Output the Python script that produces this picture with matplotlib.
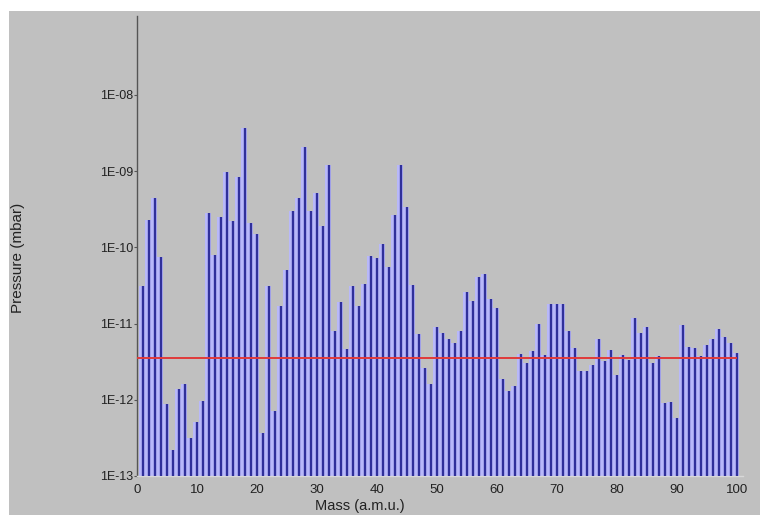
import numpy as np
import matplotlib.pyplot as plt
from matplotlib.patches import Rectangle
from matplotlib.ticker import FixedLocator, FuncFormatter, NullLocator

plt.rcParams['font.family'] = ['Liberation Sans', 'DejaVu Sans']

# mass spectrum, 1..100 a.m.u. (mbar)
mass = np.arange(1, 101)
pressure = [
    3.1e-11, 2.3e-10, 4.4e-10, 7.4e-11, 8.7e-13, 2.2e-13, 1.4e-12, 1.6e-12, 3.2e-13, 5.1e-13,
    9.6e-13, 2.8e-10, 7.9e-11, 2.5e-10, 9.8e-10, 2.2e-10, 8.5e-10, 3.7e-09, 2.1e-10, 1.5e-10,
    3.7e-13, 3.1e-11, 7.2e-13, 1.7e-11, 5.1e-11, 3.0e-10, 4.4e-10, 2.1e-09, 3.0e-10, 5.1e-10,
    1.9e-10, 1.2e-09, 8.0e-12, 1.9e-11, 4.6e-12, 3.1e-11, 1.7e-11, 3.3e-11, 7.6e-11, 7.3e-11,
    1.1e-10, 5.6e-11, 2.7e-10, 1.2e-09, 3.4e-10, 3.2e-11, 7.2e-12, 2.6e-12, 1.6e-12, 9.1e-12,
    7.6e-12, 6.3e-12, 5.6e-12, 8.1e-12, 2.6e-11, 2.0e-11, 4.1e-11, 4.5e-11, 2.1e-11, 1.6e-11,
    1.9e-12, 1.3e-12, 1.5e-12, 4.0e-12, 3.0e-12, 4.4e-12, 9.8e-12, 3.9e-12, 1.8e-11, 1.8e-11,
    1.8e-11, 8.0e-12, 4.8e-12, 2.4e-12, 2.4e-12, 2.9e-12, 6.2e-12, 3.2e-12, 4.5e-12, 2.1e-12,
    3.9e-12, 3.3e-12, 1.2e-11, 7.5e-12, 9.0e-12, 3.0e-12, 3.7e-12, 9.1e-13, 9.4e-13, 5.7e-13,
    9.6e-12, 5.0e-12, 4.8e-12, 3.8e-12, 5.3e-12, 6.2e-12, 8.4e-12, 6.7e-12, 5.6e-12, 4.1e-12,
]
threshold = 3.5e-12
y_ticks = [1e-13, 1e-12, 1e-11, 1e-10, 1e-9, 1e-8]
x_ticks = [0, 10, 20, 30, 40, 50, 60, 70, 80, 90, 100]

W, H = 760, 515
fig = plt.figure(figsize=(W / 100, H / 100), dpi=100, facecolor='white')
# grey panel, leaves a thin white strip top and left like the screenshot
fig.patches.append(Rectangle((9 / W, 0), 1, (H - 11) / H, transform=fig.transFigure,
                             facecolor='#c0c0c0', edgecolor='none', zorder=-5))

ax = fig.add_axes([137 / W, 39 / H, (743 - 137) / W, (499.4 - 39) / H])
ax.set_facecolor('#c0c0c0')
ax.set_yscale('log')
ax.set_xlim(0, 101)
ax.set_ylim(1e-13, 1.1e-7)

bottom = 1e-13
ax.bar(mass - 0.15, np.array(pressure) - bottom, bottom=bottom, width=0.9,
       color='#b8b8fa', edgecolor='none', zorder=2)
ax.vlines(mass, bottom, pressure, color='#30309a', linewidth=1.7, zorder=3)
ax.hlines(threshold, 0, 100, color='#e03a3a', linewidth=1.4, zorder=4)

ax.yaxis.set_major_locator(FixedLocator(y_ticks))
ax.yaxis.set_minor_locator(NullLocator())
ax.yaxis.set_major_formatter(FuncFormatter(lambda v, _: '1E-%02d' % round(-np.log10(v))))
ax.set_xticks(x_ticks)
ax.tick_params(axis='y', length=2, width=0.8, color='#555555', labelsize=9, pad=1,
               labelcolor='#222222')
ax.tick_params(axis='x', length=0, labelsize=9.5, pad=6, labelcolor='#222222')

for side in ('top', 'right'):
    ax.spines[side].set_visible(False)
ax.spines['left'].set_color('#555555')
ax.spines['left'].set_linewidth(1.0)
ax.spines['bottom'].set_color('#d8d8d8')
ax.spines['bottom'].set_linewidth(1.0)

fig.text(18 / W, 1 - 258 / H, 'Pressure (mbar)', rotation=90, ha='center', va='center',
         fontsize=11, color='#222222')
fig.text(360 / W, 2 / H, 'Mass (a.m.u.)', ha='center', va='bottom',
         fontsize=10.5, color='#222222')

fig.savefig('out.png', dpi=100, facecolor=fig.get_facecolor())
